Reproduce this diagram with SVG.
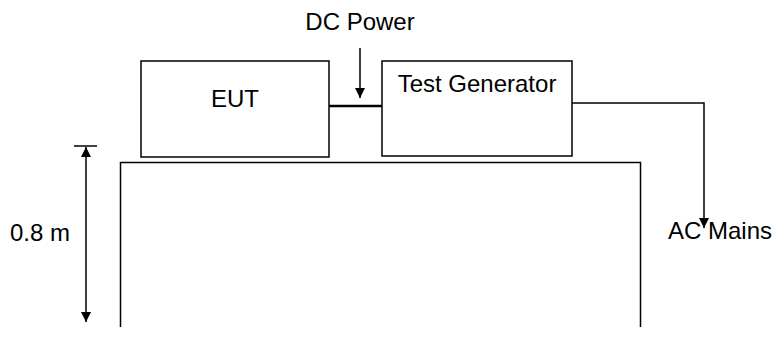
<svg xmlns="http://www.w3.org/2000/svg" width="776" height="338" viewBox="0 0 776 338">
<defs>
<style>
.box{fill:#fff;stroke:#000;stroke-width:1.5}
.ln{fill:none;stroke:#000;stroke-width:1.5}
.t{font-family:"Liberation Sans",Arial,sans-serif;font-size:24px;fill:#000}
</style>
<marker id="ah" viewBox="0 0 10 10" refX="10" refY="5" markerWidth="10" markerHeight="10" markerUnits="userSpaceOnUse" orient="auto">
<path d="M0,0 L10,5 L0,10 Z" fill="#000"/>
</marker>
</defs>
<rect width="776" height="338" fill="#fff"/>
<g id="table">
<path class="ln" d="M120.5,327 V162.5 H640.5 V327"/>
</g>
<g id="eut">
<rect class="box" x="141" y="61" width="188" height="96"/>
<text class="t" x="235" y="107" text-anchor="middle">EUT</text>
</g>
<g id="test-generator">
<rect class="box" x="382" y="61" width="190" height="95"/>
<text class="t" x="477" y="92" text-anchor="middle">Test Generator</text>
</g>
<g id="dc-power">
<text class="t" x="360" y="30" text-anchor="middle">DC Power</text>
</g>
<g id="ac-mains">
<text class="t" x="668" y="239">AC Mains</text>
</g>
<g id="height-label">
<text class="t" x="10" y="241">0.8 m</text>
</g>
<g id="connectors">
<line x1="329" y1="106" x2="382" y2="106" stroke="#000" stroke-width="2.5"/>
<line class="ln" x1="360" y1="48" x2="360" y2="98" marker-end="url(#ah)"/>
<polyline class="ln" points="572,103 704,103 704,228" marker-end="url(#ah)"/>
<line class="ln" x1="74" y1="146" x2="97" y2="146"/>
<line class="ln" x1="86" y1="234" x2="86" y2="147" marker-end="url(#ah)"/>
<line class="ln" x1="86" y1="234" x2="86" y2="322" marker-end="url(#ah)"/>
</g>
</svg>
